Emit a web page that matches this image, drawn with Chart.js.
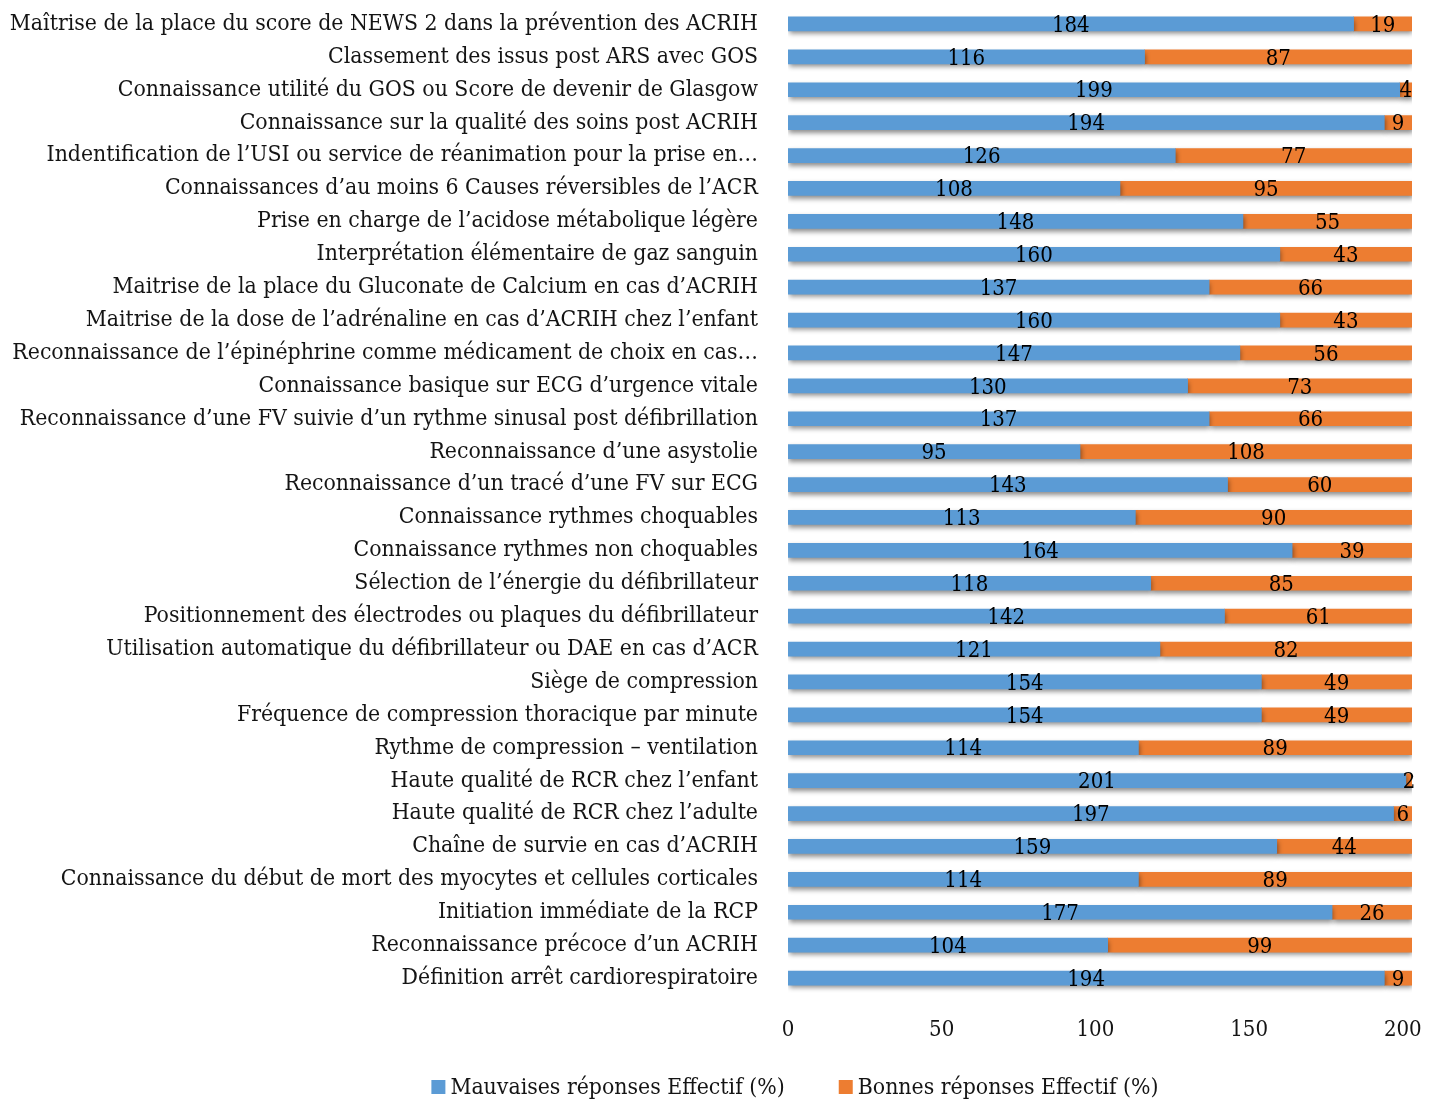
<!DOCTYPE html>
<html>
<head>
<meta charset="utf-8">
<script src="https://cdn.jsdelivr.net/npm/chart.js@4.4.1/dist/chart.umd.min.js"></script>
<style>
  html, body { margin: 0; padding: 0; background: #ffffff; }
  #wrap { width: 1435px; height: 1101px; }
</style>
</head>
<body>
<div id="wrap"><canvas id="c" width="1435" height="1101"></canvas></div>
<script>
// Questionnaire items, top to bottom
const categories = [
  "Maîtrise de la place du score de NEWS 2 dans la prévention des ACRIH",
  "Classement des issus post ARS avec GOS",
  "Connaissance utilité du GOS ou Score de devenir de Glasgow",
  "Connaissance sur la qualité des soins post ACRIH",
  "Indentification de l’USI ou service de réanimation pour la prise en…",
  "Connaissances d’au moins 6 Causes réversibles de l’ACR",
  "Prise en charge de l’acidose métabolique légère",
  "Interprétation élémentaire de gaz sanguin",
  "Maitrise de la place du Gluconate de Calcium en cas d’ACRIH",
  "Maitrise de la dose de l’adrénaline en cas d’ACRIH chez l’enfant",
  "Reconnaissance de l’épinéphrine comme médicament de choix en cas…",
  "Connaissance basique sur ECG d’urgence vitale",
  "Reconnaissance d’une FV suivie d’un rythme sinusal post défibrillation",
  "Reconnaissance d’une asystolie",
  "Reconnaissance d’un tracé d’une FV sur ECG",
  "Connaissance rythmes choquables",
  "Connaissance rythmes non choquables",
  "Sélection de l’énergie du défibrillateur",
  "Positionnement des électrodes ou plaques du défibrillateur",
  "Utilisation automatique du défibrillateur ou DAE en cas d’ACR",
  "Siège de compression",
  "Fréquence de compression thoracique par minute",
  "Rythme de compression – ventilation",
  "Haute qualité de RCR chez l’enfant",
  "Haute qualité de RCR chez l’adulte",
  "Chaîne de survie en cas d’ACRIH",
  "Connaissance du début de mort des myocytes et cellules corticales",
  "Initiation immédiate de la RCP",
  "Reconnaissance précoce d’un ACRIH",
  "Définition arrêt cardiorespiratoire"
];

// Wrong answers (count)
const mauvaises = [184, 116, 199, 194, 126, 108, 148, 160, 137, 160,
                   147, 130, 137,  95, 143, 113, 164, 118, 142, 121,
                   154, 154, 114, 201, 197, 159, 114, 177, 104, 194];

// Correct answers (count)
const bonnes = [19, 87,  4,  9, 77, 95, 55, 43, 66, 43,
                56, 73, 66, 108, 60, 90, 39, 85, 61, 82,
                49, 49, 89,  2,  6, 44, 89, 26, 99,  9];

const seriesNames = ["Mauvaises réponses Effectif (%)", "Bonnes réponses Effectif (%)"];
const seriesColors = ["#5B9BD5", "#ED7D31"];
const xTickValues = [0, 50, 100, 150, 200];
const xMax = 203; // respondents

const FONT = "'DejaVu Serif Condensed', 'Liberation Serif', serif";
const TEXT = "#141414";

// Soft drop shadow under the bars
const barShadow = {
  id: "barShadow",
  beforeDatasetsDraw(chart) {
    const c = chart.ctx;
    c.save();
    c.shadowColor = "rgba(0,0,0,0.45)";
    c.shadowBlur = 5;
    c.shadowOffsetX = 1;
    c.shadowOffsetY = 3;
  },
  afterDatasetsDraw(chart) {
    chart.ctx.restore();
  }
};

// Value written in the middle of every segment
const segmentLabels = {
  id: "segmentLabels",
  afterDatasetsDraw(chart) {
    const c = chart.ctx;
    c.save();
    c.font = "22px " + FONT;
    c.fillStyle = "#000000";
    c.textAlign = "center";
    c.textBaseline = "middle";
    chart.data.datasets.forEach((ds, i) => {
      const meta = chart.getDatasetMeta(i);
      meta.data.forEach((bar, j) => {
        const p = bar.getProps(["x", "y", "base"], true);
        c.fillText(String(ds.data[j]), (p.x + p.base) / 2, p.y + 2);
      });
    });
    c.restore();
  }
};

// Series key under the axis
const bottomLegend = {
  id: "bottomLegend",
  afterDraw(chart, args, opts) {
    const c = chart.ctx;
    c.save();
    c.font = opts.fontSize + "px " + FONT;
    c.textBaseline = "middle";
    c.textAlign = "left";
    const items = chart.data.datasets.map(ds => ({
      text: ds.label,
      color: ds.backgroundColor,
      w: c.measureText(ds.label).width
    }));
    const total = items.reduce((s, it) => s + opts.box + opts.gap + it.w, 0) +
                  opts.spacing * (items.length - 1);
    let x = opts.centerX - total / 2;
    items.forEach(it => {
      c.fillStyle = it.color;
      c.fillRect(x, opts.y - opts.box / 2, opts.box, opts.box);
      x += opts.box + opts.gap;
      c.fillStyle = TEXT;
      c.fillText(it.text, x, opts.y + 1);
      x += it.w + opts.spacing;
    });
    c.restore();
  }
};

new Chart(document.getElementById("c"), {
  type: "bar",
  data: {
    labels: categories,
    datasets: [
      { label: seriesNames[0], data: mauvaises, backgroundColor: seriesColors[0], barThickness: 14 },
      { label: seriesNames[1], data: bonnes, backgroundColor: seriesColors[1], barThickness: 14 }
    ]
  },
  options: {
    indexAxis: "y",
    responsive: false,
    animation: false,
    layout: { padding: { left: 0, right: 23, top: 7.5, bottom: 46.5 } },
    scales: {
      x: {
        stacked: true,
        min: 0,
        max: xMax,
        grid: { display: false, drawTicks: true, tickLength: 19 },
        border: { display: false },
        afterBuildTicks(scale) {
          scale.ticks = xTickValues.map(v => ({ value: v }));
        },
        afterFit(scale) { scale.height = 60; },
        ticks: {
          font: { family: FONT, size: 22 },
          color: TEXT,
          padding: 4
        }
      },
      y: {
        stacked: true,
        grid: { display: false, drawTicks: true, tickLength: 30 },
        border: { display: false },
        afterFit(scale) { scale.width = 788; },
        ticks: {
          autoSkip: false,
          font: { family: FONT, size: 22.8, lineHeight: 0.6 },
          color: TEXT,
          padding: 0
        }
      }
    },
    plugins: {
      legend: { display: false },
      tooltip: { enabled: false },
      bottomLegend: { centerX: 795, y: 1087, box: 14, gap: 5, spacing: 54, fontSize: 22.8 }
    }
  },
  plugins: [barShadow, segmentLabels, bottomLegend]
});
</script>
</body>
</html>
